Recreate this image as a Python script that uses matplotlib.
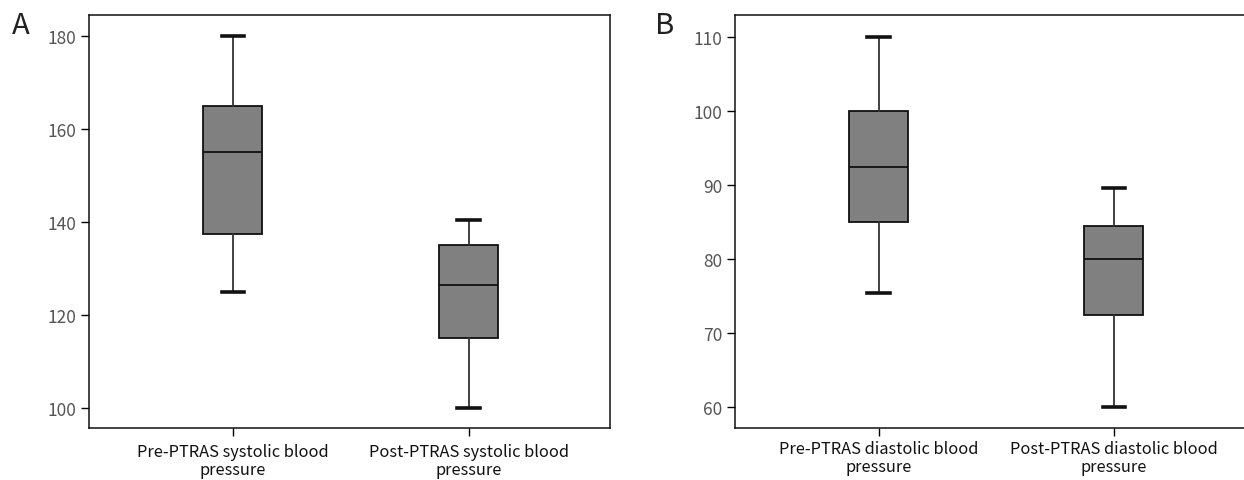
import numpy as np
import matplotlib.pyplot as plt

plt.rcParams['font.family'] = ['Noto Sans CJK KR', 'DejaVu Sans']

# five-number summaries: (low whisker, Q1, median, Q3, high whisker)
sys_labels = ["Pre-PTRAS systolic blood\npressure", "Post-PTRAS systolic blood\npressure"]
sys_low = [125, 100]
sys_q1 = [137.5, 115]
sys_med = [155, 126.5]
sys_q3 = [165, 135]
sys_high = [180, 140.4]

dia_labels = ["Pre-PTRAS diastolic blood\npressure", "Post-PTRAS diastolic blood\npressure"]
dia_low = [75.5, 60]
dia_q1 = [85, 72.5]
dia_med = [92.5, 80]
dia_q3 = [100, 84.5]
dia_high = [110, 89.6]


def stats(low, q1, med, q3, high):
    out = []
    for i in range(len(med)):
        out.append(dict(whislo=low[i], q1=q1[i], med=med[i], q3=q3[i], whishi=high[i], fliers=[]))
    return out


def draw(ax, st, labels, ylim, yticks, xpad):
    ax.bxp(st, positions=[1, 2], widths=0.25, capwidths=0.094, patch_artist=True,
           boxprops=dict(facecolor='#808080', edgecolor='#111111', linewidth=1.3),
           medianprops=dict(color='#111111', linewidth=1.3),
           whiskerprops=dict(color='#333333', linewidth=1.3),
           capprops=dict(color='#111111', linewidth=2.6))
    ax.set_xlim(0.39, 2.6)
    ax.set_ylim(*ylim)
    ax.set_yticks(yticks)
    ax.set_xticks([1, 2])
    ax.set_xticklabels(labels, fontsize=11.8, color='#111111', linespacing=1.05)
    ax.tick_params(axis='y', labelsize=12.5, labelcolor='#555555', length=6, width=1, pad=3)
    ax.tick_params(axis='x', length=6, width=1, pad=xpad)
    for s in ax.spines.values():
        s.set_linewidth(1.1)
        s.set_color('#111111')


fig = plt.figure(figsize=(12.44, 4.81), dpi=100)
W, H = 1244, 481
axA = fig.add_axes([89 / W, 1 - 429 / H, (610 - 89) / W, (429 - 16) / H])
axB = fig.add_axes([735 / W, 1 - 429 / H, (1255 - 735) / W, (429 - 16) / H])

draw(axA, stats(sys_low, sys_q1, sys_med, sys_q3, sys_high), sys_labels, (95.6, 184.6), [100, 120, 140, 160, 180], 5)
draw(axB, stats(dia_low, dia_q1, dia_med, dia_q3, dia_high), dia_labels, (57.2, 113.0), [60, 70, 80, 90, 100, 110], 3)

fig.text(21 / W, 1 - 26 / H, "A", fontsize=21, ha='center', va='center', color='#222222')
fig.text(665 / W, 1 - 26 / H, "B", fontsize=21, ha='center', va='center', color='#222222')

fig.savefig("out.png", dpi=100)
